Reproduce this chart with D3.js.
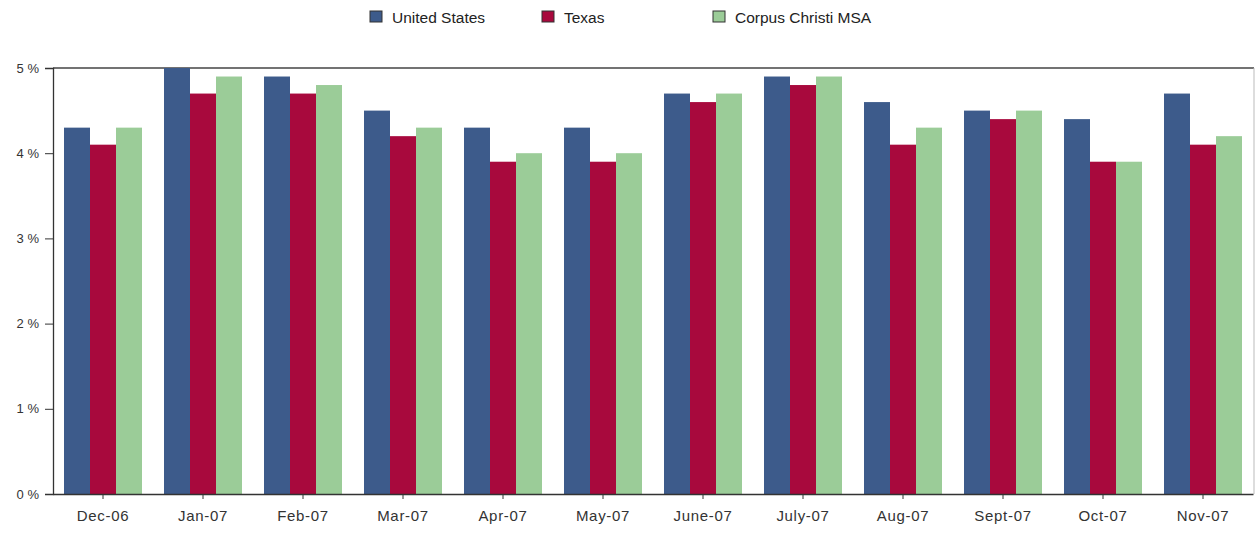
<!DOCTYPE html>
<html>
<head>
<meta charset="utf-8">
<script src="https://cdn.jsdelivr.net/npm/d3@7"></script>
<style>
  body { margin: 0; background: #fff; }
  svg { display: block; font-family: "Liberation Sans", Arial, sans-serif; }
</style>
</head>
<body>
<svg width="1255" height="535"></svg>
<script>
// data
const months = ["Dec-06", "Jan-07", "Feb-07", "Mar-07", "Apr-07", "May-07", "June-07", "July-07", "Aug-07", "Sept-07", "Oct-07", "Nov-07"];
const seriesNames = ["United States", "Texas", "Corpus Christi MSA"];
const usValues = [4.3, 5.0, 4.9, 4.5, 4.3, 4.3, 4.7, 4.9, 4.6, 4.5, 4.4, 4.7];
const texasValues = [4.1, 4.7, 4.7, 4.2, 3.9, 3.9, 4.6, 4.8, 4.1, 4.4, 3.9, 4.1];
const corpusValues = [4.3, 4.9, 4.8, 4.3, 4.0, 4.0, 4.7, 4.9, 4.3, 4.5, 3.9, 4.2];
const yTicks = [0, 1, 2, 3, 4, 5];
const colors = ["#3d5b8b", "#a8093d", "#9bcc98"];

const svg = d3.select("svg");
const margin = { left: 53, right: 2, top: 68, bottom: 41 };
const W = 1255, H = 535;

const x = d3.scaleBand().domain(months).range([margin.left, W - margin.right]).paddingInner(0.22).paddingOuter(0.11);
const xs = d3.scaleBand().domain(seriesNames).range([0, x.bandwidth()]);
const y = d3.scaleLinear().domain([0, 5]).range([H - margin.bottom, margin.top]);

// frame top + right
svg.append("line").attr("x1", margin.left).attr("x2", W - 1).attr("y1", y(5)).attr("y2", y(5))
  .attr("stroke", "#444").attr("stroke-width", 1.3);
svg.append("line").attr("x1", W - 1).attr("x2", W - 1).attr("y1", y(5)).attr("y2", y(0))
  .attr("stroke", "#bbb");

// bars
const allValues = [usValues, texasValues, corpusValues];
const g = svg.append("g");
months.forEach((m, i) => {
  seriesNames.forEach((s, j) => {
    g.append("rect")
      .attr("x", x(m) + xs(s))
      .attr("width", xs.bandwidth())
      .attr("y", y(allValues[j][i]))
      .attr("height", y(0) - y(allValues[j][i]))
      .attr("fill", colors[j]);
  });
});

// y axis
const yAxis = svg.append("g").attr("transform", `translate(${margin.left},0)`)
  .call(d3.axisLeft(y).tickValues(yTicks).tickFormat(d => d + " %").tickSize(8).tickPadding(6));
yAxis.select(".domain").attr("stroke", "#333").attr("stroke-width", 1.3);
yAxis.selectAll(".tick line").attr("stroke", "#333");
yAxis.selectAll("text").attr("fill", "#333").style("font-size", "13px");

// x axis
const xAxis = svg.append("g").attr("transform", `translate(0,${y(0)})`)
  .call(d3.axisBottom(x).tickSize(5).tickPadding(11).tickSizeOuter(0));
xAxis.select(".domain").attr("stroke", "#333").attr("stroke-width", 1.3);
xAxis.selectAll(".tick line").attr("stroke", "#333");
xAxis.selectAll("text").attr("fill", "#333").style("font-size", "15px").style("letter-spacing", "0.7px");

// legend
const legendX = [370, 542, 713];
const legend = svg.append("g");
seriesNames.forEach((s, j) => {
  legend.append("rect").attr("x", legendX[j]).attr("y", 11).attr("width", 12).attr("height", 11)
    .attr("fill", colors[j]).attr("stroke", "#333").attr("stroke-width", 1);
  legend.append("text").attr("x", legendX[j] + 22).attr("y", 23)
    .attr("fill", "#222").style("font-size", "15.5px").text(s);
});
</script>
</body>
</html>
